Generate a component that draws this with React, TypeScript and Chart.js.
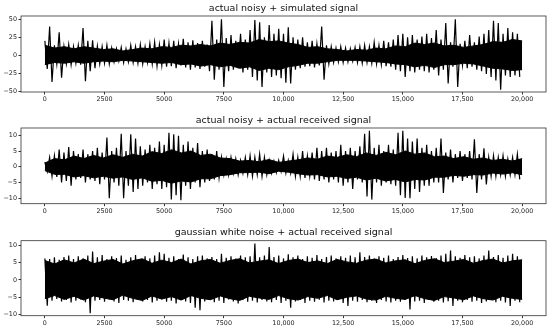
import { useEffect, useRef } from "react";
import { Chart, registerables } from "chart.js";

Chart.register(...registerables);

const FONT = "'DejaVu Sans', sans-serif";
const LAST_SAMPLE = 20000; // signals run from sample 0 to LAST_SAMPLE

const xTickValues = [0, 2500, 5000, 7500, 10000, 12500, 15000, 17500, 20000];
const xTickLabels = ["0", "2500", "5000", "7500", "10,000", "12,500", "15,000", "17,500", "20,000"];

const titles = [
  "actual noisy + simulated signal",
  "actual noisy + actual received signal",
  "gaussian white noise + actual received signal",
];

// panel 1: spike peaks (upper / lower, per 200-sample bin) and dense core (per 400-sample bin)
const hi1 = [20, 40, 14, 32, 12, 15, 12, 14, 38, 20, 21, 13, 12, 14, 10, 9, 11, 9, 14, 12, 15, 12, 16, 18, 15, 22, 17, 20, 16, 23, 18, 21, 17, 20, 15, 48, 22, 50, 24, 28, 20, 30, 22, 35, 49, 46, 25, 42, 30, 37, 30, 39, 25, 22, 25, 18, 20, 16, 40, 14, 12, 10, 12, 10, 9, 11, 12, 14, 12, 18, 14, 20, 18, 22, 28, 30, 25, 28, 22, 26, 30, 24, 35, 22, 45, 18, 50, 16, 20, 28, 18, 26, 30, 35, 48, 45, 30, 38, 32, 30];
const lo1 = [-19, -37, -12, -31, -12, -13, -11, -13, -36, -22, -18, -12, -11, -12, -9, -8, -10, -9, -10, -11, -12, -10, -12, -15, -14, -16, -15, -18, -14, -17, -20, -17, -19, -16, -22, -34, -20, -44, -22, -20, -18, -24, -20, -30, -35, -44, -24, -30, -28, -32, -38, -39, -20, -18, -16, -15, -17, -14, -34, -12, -10, -9, -10, -9, -8, -10, -11, -10, -11, -12, -13, -15, -16, -20, -22, -30, -22, -24, -20, -22, -24, -20, -28, -20, -39, -16, -44, -14, -18, -16, -20, -22, -26, -30, -35, -48, -28, -30, -28, -30];
const core1Hi = [14, 10, 12, 9, 12, 10, 8, 9, 6, 8, 10, 9, 12, 11, 14, 13, 15, 13, 17, 15, 18, 17, 22, 19, 20, 17, 15, 11, 12, 9, 8, 6, 8, 7, 10, 9, 13, 12, 17, 15, 17, 13, 14, 11, 13, 15, 19, 18, 22, 20];
const core1Lo = [-13, -10, -11, -9, -11, -9, -8, -9, -7, -8, -9, -10, -11, -10, -13, -12, -15, -13, -16, -14, -18, -16, -21, -18, -20, -16, -14, -11, -11, -9, -7, -7, -7, -8, -9, -10, -12, -13, -16, -14, -17, -13, -13, -11, -12, -15, -18, -19, -21, -20];

// panel 2
const hi2 = [1.5, 3, 3.5, 5.5, 4.5, 6.3, 5, 4, 5.5, 4, 5, 6, 4.5, 9.3, 5, 6, 10.5, 5, 10.3, 9, 6.5, 5.5, 7, 6, 8, 7, 10.8, 10.3, 9.8, 7, 8, 6, 7.5, 5, 5.5, 4, 5, 3, 2.5, 3, 2.5, 2, 3, 3.5, 3, 4, 3, 2, 1.8, 2, 3.4, 2, 4, 3, 5, 3.5, 4.5, 6, 5, 6, 4.5, 5, 7, 5, 6, 5, 6.5, 10.5, 11.4, 6, 7, 5, 7, 5.5, 10.8, 11.4, 9, 8, 9, 6, 7, 5, 6, 9, 4.5, 5.5, 4, 5, 4, 5, 8.7, 4, 5.9, 3, 3.5, 3, 3.5, 2.5, 3, 4];
const lo2 = [-1.5, -3, -3.2, -5, -4.5, -6, -4, -3.5, -5, -4, -4.5, -5.5, -4, -10, -5, -6, -10, -6, -8, -7, -6, -5, -7, -5.5, -7, -6.5, -10.4, -9, -10.6, -6, -7, -5, -6.5, -5, -4.5, -4, -3.5, -2.5, -2.5, -2, -2.5, -2, -2.5, -3, -2.5, -3, -2.5, -2, -1.8, -1.5, -2, -2, -3, -3, -3.5, -3, -4, -4.5, -4, -5, -4, -5, -6, -5, -7, -4, -5, -9.4, -10.4, -5, -6, -5, -5.5, -6, -9, -9.9, -10, -7, -8, -6, -6, -5, -5, -8.3, -4, -5, -3.5, -4.5, -3.5, -4, -8.3, -4, -5.6, -3, -3, -2.5, -3, -2.5, -2.5, -4];
const core2Hi = [1.2, 2.6, 2.2, 3.4, 2.6, 3.6, 2.8, 3.8, 3, 4, 3.4, 4.8, 4.2, 5.4, 4.4, 5, 3.6, 4, 2.8, 2.6, 1.8, 2, 1.6, 2.3, 1.4, 1.8, 2.2, 2.8, 2.4, 3.4, 3, 3.8, 3.2, 4.4, 3.6, 4.6, 3.8, 5, 4, 4.4, 3.2, 3.4, 2.6, 3.2, 2.4, 2.8, 2, 2.4, 1.8, 2.6];
const core2Lo = [-1.2, -2.4, -2.4, -3.2, -2.8, -3.5, -3, -3.6, -3.2, -4, -3.5, -4.6, -4.3, -5.2, -4.5, -4.8, -3.8, -3.8, -2.8, -2.5, -1.9, -1.8, -1.7, -2.2, -1.4, -1.7, -2.2, -2.6, -2.5, -3.2, -3, -3.7, -3.3, -4.2, -3.6, -4.5, -4, -4.8, -4, -4.2, -3.3, -3.3, -2.7, -3, -2.5, -2.6, -2, -2.3, -1.9, -2.5];

// panel 3
const hi3 = [6.2, 6, 6.5, 5.8, 6.6, 7, 6, 6.8, 6.2, 7, 8.2, 6.5, 7.2, 6, 6.8, 6.3, 7, 5.8, 6.5, 7.2, 6, 6.8, 6.2, 7, 8, 7.5, 6.4, 6.8, 6, 7.3, 6.5, 6, 6.8, 7, 6.2, 6.6, 6, 7.5, 6.4, 6.8, 6.2, 7, 6.5, 6.8, 10.5, 6.5, 7, 9.5, 6.6, 7, 6.2, 7.4, 6.5, 7, 6, 6.8, 6.4, 7.2, 6, 6.6, 7, 6.2, 6.8, 6.4, 7, 6.5, 8, 6.6, 7, 6.2, 6.8, 6.4, 7, 6, 6.6, 7.2, 6.3, 6.8, 6.2, 7, 6.5, 6.9, 6.3, 7, 7.5, 8.5, 6.8, 6.4, 7.2, 6.5, 6.8, 6.2, 7, 8.5, 6.6, 7.2, 6.4, 7, 7.5, 6.8];
const lo3 = [-7.4, -6, -5.5, -6.2, -5.8, -6.5, -6, -5.6, -6.4, -9.6, -6, -5.8, -6.3, -5.6, -6.2, -6.6, -5.8, -6, -6.4, -5.5, -6.2, -5.8, -6.5, -6, -5.6, -6.3, -6, -6.8, -5.8, -6.2, -6.6, -8, -8.7, -6.2, -5.8, -6.4, -6, -6.6, -5.6, -6.2, -6.8, -5.8, -6.3, -6, -6.5, -5.8, -6.2, -6.4, -5.8, -6.6, -6, -8, -6.2, -5.8, -6.6, -6, -6.3, -5.7, -6.5, -6, -6.2, -5.8, -6.6, -7.5, -6, -6.3, -5.8, -6.4, -6, -6.6, -5.8, -6.2, -6.5, -6, -6.3, -5.8, -8.5, -6.2, -6, -6.6, -5.8, -6.3, -6, -6.5, -6.1, -7.5, -6, -6.4, -5.8, -6.3, -6, -6.6, -6.2, -5.8, -6.4, -6, -6.5, -7.5, -6, -6.4];
const core3Hi = [5.6, 4.6, 5.8, 4.9, 6, 4.7, 5.4, 5.9, 4.6, 5.5, 6.1, 4.8, 5.7, 5, 6, 4.6, 5.5, 5.9, 4.8, 5.6, 6.1, 4.9, 5.4, 5.8, 4.7, 5.6, 6, 5, 5.5, 4.7, 5.9, 5.2, 4.8, 5.7, 6, 4.9, 5.5, 5.8, 4.7, 5.6, 6.1, 5, 5.4, 5.9, 4.8, 5.6, 6, 4.9, 5.5, 5.8];
const core3Lo = [-5.4, -4.5, -5.6, -4.7, -5.8, -4.6, -5.2, -5.7, -4.4, -5.3, -5.9, -4.6, -5.5, -4.8, -5.8, -4.5, -5.3, -5.7, -4.6, -5.4, -5.9, -4.7, -5.2, -5.6, -4.5, -5.4, -5.8, -4.8, -5.3, -4.5, -5.7, -5, -4.6, -5.5, -5.8, -4.7, -5.3, -5.6, -4.5, -5.4, -5.9, -4.8, -5.2, -5.7, -4.6, -5.4, -5.8, -4.7, -5.3, -5.6];

const yTicks1 = [-50, -25, 0, 25, 50];
const yTicks2 = [-10, -5, 0, 5, 10];
const yTicks3 = [-10, -5, 0, 5, 10];
const yRange1 = [-51, 54.6];
const yRange2 = [-11.7, 12.3];
const yRange3 = [-10.3, 11.3];
const xRange = [-1000, 21000];

type PanelSpec = {
  title: string;
  hi: number[];
  lo: number[];
  coreHi: number[];
  coreLo: number[];
  yTicks: number[];
  yRange: number[];
  top: number;
  padTop: number;
  titleY: number;
  xh: number;
};

const panels: PanelSpec[] = [
  { title: titles[0], hi: hi1, lo: lo1, coreHi: core1Hi, coreLo: core1Lo, yTicks: yTicks1, yRange: yRange1, top: 0, padTop: 16, titleY: 9, xh: 13 },
  { title: titles[1], hi: hi2, lo: lo2, coreHi: core2Hi, coreLo: core2Lo, yTicks: yTicks2, yRange: yRange2, top: 111, padTop: 17, titleY: 9.5, xh: 12.3 },
  { title: titles[2], hi: hi3, lo: lo3, coreHi: core3Hi, coreLo: core3Lo, yTicks: yTicks3, yRange: yRange3, top: 224, padTop: 16.7, titleY: 9, xh: 13.3 },
];

function Panel({ spec }: { spec: PanelSpec }) {
  const ref = useRef<HTMLCanvasElement>(null);
  useEffect(() => {
    // spike trace: alternating upper / lower peak of each bin
    const step = LAST_SAMPLE / spec.hi.length;
    const trace: { x: number; y: number }[] = [];
    spec.hi.forEach((h, i) => {
      trace.push({ x: i * step, y: h });
      trace.push({ x: i * step + step / 2, y: spec.lo[i] });
    });
    // dense core band
    const m = spec.coreHi.length;
    const cx = (j: number) => (j * LAST_SAMPLE) / (m - 1);
    const coreHiPts = spec.coreHi.map((v, j) => ({ x: cx(j), y: v }));
    const coreLoPts = spec.coreLo.map((v, j) => ({ x: cx(j), y: v }));

    const frame = {
      id: "frame",
      afterDraw(chart: any) {
        const { ctx, chartArea } = chart;
        ctx.save();
        ctx.strokeStyle = "#333";
        ctx.lineWidth = 0.8;
        ctx.strokeRect(chartArea.left, chartArea.top, chartArea.right - chartArea.left, chartArea.bottom - chartArea.top);
        ctx.fillStyle = "#111";
        ctx.font = `9.5px ${FONT}`;
        ctx.textAlign = "center";
        ctx.textBaseline = "middle";
        ctx.fillText(spec.title, (chartArea.left + chartArea.right) / 2, spec.titleY);
        ctx.restore();
      },
    };
    const tickFont = { family: FONT, size: 6.4 };
    const chart = new Chart(ref.current as HTMLCanvasElement, {
      type: "line",
      data: {
        datasets: [
          {
            data: coreHiPts,
            borderColor: "#000",
            backgroundColor: "#000",
            borderWidth: 1,
            pointRadius: 0,
            tension: 0,
            fill: "+1",
          },
          {
            data: coreLoPts,
            borderColor: "#000",
            borderWidth: 1,
            pointRadius: 0,
            tension: 0,
            fill: false,
          },
          {
            data: trace,
            borderColor: "#000",
            borderWidth: 1.2,
            pointRadius: 0,
            tension: 0,
            fill: false,
          },
        ],
      },
      options: {
        animation: false,
        responsive: false,
        maintainAspectRatio: false,
        events: [],
        layout: { padding: { left: 0, right: 4, top: spec.padTop, bottom: 0 } },
        plugins: { legend: { display: false }, tooltip: { enabled: false }, title: { display: false } },
        scales: {
          x: {
            type: "linear",
            min: xRange[0],
            max: xRange[1],
            afterBuildTicks: (s: any) => {
              s.ticks = xTickValues.map((v) => ({ value: v }));
            },
            afterFit: (s: any) => {
              s.height = spec.xh;
            },
            ticks: {
              autoSkip: false,
              maxRotation: 0,
              padding: 1.5,
              color: "#222",
              font: tickFont,
              callback: (v: any) => {
                const i = xTickValues.indexOf(Number(v));
                return i >= 0 ? xTickLabels[i] : "";
              },
            },
            grid: { drawOnChartArea: false, drawTicks: true, tickLength: 2.5, color: "#333" },
            border: { display: false },
          },
          y: {
            type: "linear",
            min: spec.yRange[0],
            max: spec.yRange[1],
            afterBuildTicks: (s: any) => {
              s.ticks = spec.yTicks.map((v) => ({ value: v }));
            },
            afterFit: (s: any) => {
              s.width = 21;
            },
            ticks: {
              padding: 1.5,
              color: "#222",
              font: tickFont,
              callback: (v: any) => (Number(v) < 0 ? "\u2212" + Math.abs(Number(v)) : String(v)),
            },
            grid: { drawOnChartArea: false, drawTicks: true, tickLength: 2.5, color: "#333" },
            border: { display: false },
          },
        },
      },
      plugins: [frame],
    } as any);
    return () => chart.destroy();
  }, [spec]);
  return (
    <canvas
      ref={ref}
      width={550}
      height={105}
      style={{ position: "absolute", left: 0, top: spec.top, width: 550, height: 105 }}
    />
  );
}

export default function App() {
  return (
    <div style={{ position: "fixed", left: 0, top: 0, width: 550, height: 333, background: "#fff" }}>
      {panels.map((p, i) => (
        <Panel key={i} spec={p} />
      ))}
    </div>
  );
}
